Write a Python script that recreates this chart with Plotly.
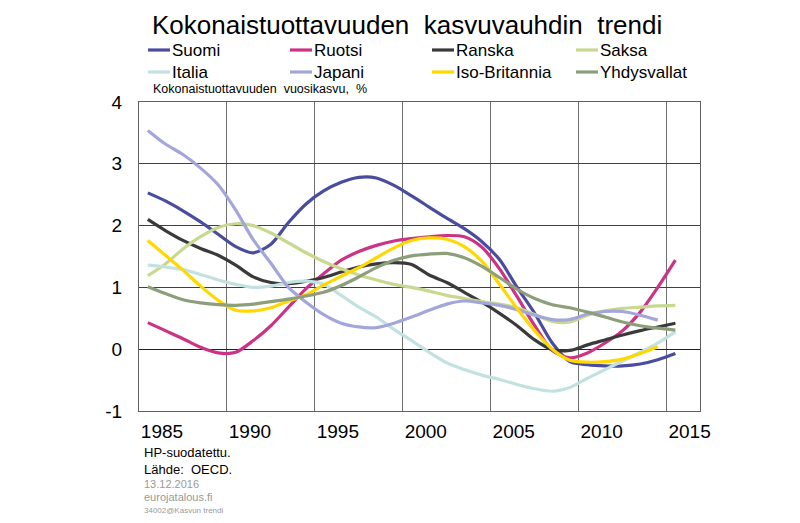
import plotly.graph_objects as go

years = list(range(1985, 2016))

suomi = [2.53, 2.40, 2.24, 2.06, 1.86, 1.66, 1.56, 1.70, 2.05, 2.35, 2.56, 2.70, 2.78, 2.77, 2.65, 2.48,
         2.30, 2.12, 1.95, 1.74, 1.45, 1.00, 0.58, 0.10, -0.20, -0.25, -0.27, -0.27, -0.24, -0.17, -0.07]
ruotsi = [0.43, 0.30, 0.17, 0.03, -0.06, -0.05, 0.14, 0.38, 0.68, 0.98, 1.22, 1.44, 1.58, 1.68, 1.75, 1.79,
          1.82, 1.84, 1.82, 1.65, 1.30, 0.85, 0.38, -0.02, -0.14, -0.06, 0.10, 0.30, 0.60, 1.00, 1.44]
ranska = [2.10, 1.92, 1.76, 1.63, 1.52, 1.36, 1.17, 1.08, 1.06, 1.10, 1.16, 1.25, 1.33, 1.38, 1.40, 1.37,
          1.20, 1.08, 0.92, 0.76, 0.58, 0.38, 0.15, -0.01, -0.02, 0.07, 0.15, 0.23, 0.30, 0.36, 0.42]
saksa = [1.19, 1.38, 1.62, 1.82, 1.97, 2.03, 2.00, 1.88, 1.72, 1.56, 1.42, 1.30, 1.20, 1.12, 1.05, 1.00,
         0.94, 0.87, 0.82, 0.77, 0.73, 0.67, 0.56, 0.45, 0.44, 0.55, 0.62, 0.66, 0.68, 0.70, 0.71]
italia = [1.36, 1.33, 1.29, 1.21, 1.12, 1.05, 1.00, 1.02, 1.08, 1.10, 1.05, 0.87, 0.68, 0.52, 0.32, 0.14,
          -0.05, -0.22, -0.33, -0.42, -0.49, -0.57, -0.64, -0.68, -0.62, -0.47, -0.33, -0.19, -0.05, 0.10, 0.28]
japani = [3.54, 3.32, 3.15, 2.93, 2.66, 2.25, 1.77, 1.39, 1.00, 0.76, 0.56, 0.42, 0.36, 0.35, 0.42, 0.52,
          0.63, 0.73, 0.78, 0.75, 0.71, 0.64, 0.55, 0.48, 0.48, 0.57, 0.61, 0.61, 0.55, 0.47]
iso_britannia = [1.76, 1.52, 1.28, 1.02, 0.79, 0.63, 0.62, 0.67, 0.78, 0.88, 1.04, 1.18, 1.32, 1.48, 1.64, 1.76,
                 1.80, 1.78, 1.66, 1.42, 1.05, 0.66, 0.30, 0.00, -0.18, -0.21, -0.20, -0.16, -0.07, 0.04]
yhdysvallat = [1.01, 0.90, 0.80, 0.75, 0.72, 0.71, 0.73, 0.77, 0.81, 0.86, 0.92, 1.03, 1.17, 1.32, 1.44, 1.51,
               1.54, 1.55, 1.48, 1.34, 1.16, 0.97, 0.82, 0.72, 0.67, 0.60, 0.52, 0.44, 0.38, 0.34, 0.31]

names = ["Suomi", "Ruotsi", "Ranska", "Saksa", "Italia", "Japani", "Iso-Britannia", "Yhdysvallat"]
series = [suomi, ruotsi, ranska, saksa, italia, japani, iso_britannia, yhdysvallat]
colors = ["#4a4c9e", "#cc3385", "#3a3a3a", "#c8d98f", "#c2e2e2", "#a3a6da", "#ffd800", "#8c9f7a"]

tick_years = [1985, 1990, 1995, 2000, 2005, 2010, 2015]
tick_text = ["1985", "1990", "1995", "2000", "2005", "2010", "2015"]
y_ticks = [-1, 0, 1, 2, 3, 4]
y_tick_text = ["-1", "0", "1", "2", "3", "4"]

fig = go.Figure()
for name, vals, col in zip(names, series, colors):
    fig.add_trace(go.Scatter(
        x=[y + 0.5 for y in years[:len(vals)]], y=vals, name=name, mode="lines",
        line=dict(color=col, width=3.2, shape="spline", smoothing=0.8),
        showlegend=False))

# page body margin of the browser shifts the figure by 8px
OFF = 8
W, H = 800 - OFF, 523 - OFF
L, R, T, B = 139 - OFF, 700 - OFF, 102 - OFF, 411 - OFF


def px(xs):  # screen pixel x -> paper
    return (xs - OFF - L) / (R - L)


def py(ys):  # screen pixel y -> paper
    return (B - (ys - OFF)) / (B - T)


# manual legend
col_x = [148, 290, 432, 576]
row_y = [50, 72]
for i, (name, col) in enumerate(zip(names, colors)):
    cx = col_x[i % 4]
    ry = row_y[i // 4]
    fig.add_shape(type="line", xref="paper", yref="paper",
                  x0=px(cx), x1=px(cx + 22), y0=py(ry), y1=py(ry),
                  line=dict(color=col, width=3.2))
    fig.add_annotation(xref="paper", yref="paper", x=px(cx + 22), y=py(ry),
                       text=name, showarrow=False, xanchor="left", yanchor="middle",
                       font=dict(size=17, color="#000000"))

fig.add_annotation(xref="paper", yref="paper", x=px(151), y=py(89),
                   text="Kokonaistuottavuuden  vuosikasvu,  %", showarrow=False,
                   xanchor="left", yanchor="middle", font=dict(size=12.5, color="#000000"))

notes = [("HP-suodatettu.", 452, 13, "#000000"),
         ("Lähde:  OECD.", 469, 13, "#000000"),
         ("13.12.2016", 484, 11, "#999999"),
         ("eurojatalous.fi", 497, 11, "#999999"),
         ("34002@Kasvun trendi", 510, 8, "#999999")]
for txt, yy, fs, c in notes:
    fig.add_annotation(xref="paper", yref="paper", x=px(142), y=py(yy), text=txt,
                       showarrow=False, xanchor="left", yanchor="middle",
                       font=dict(size=fs, color=c))

fig.update_layout(
    width=W, height=H,
    margin=dict(l=L, r=W - R, t=T, b=H - B, pad=0),
    paper_bgcolor="white", plot_bgcolor="white",
    font=dict(family="Arial, Liberation Sans, sans-serif", color="#000000"),
    title=dict(text="Kokonaistuottavuuden  kasvuvauhdin  trendi", x=(152 - OFF) / W,
               xanchor="left", y=1 - (25 - OFF) / H, yanchor="middle",
               font=dict(size=26, color="#000000")),
    xaxis=dict(range=[1985, 2016.9], tickvals=tick_years, ticktext=tick_text,
               showgrid=True, gridcolor="#707070", gridwidth=1,
               showline=True, linecolor="#606060", linewidth=1, mirror=True,
               zeroline=False, ticks="", ticklabelshift=23, ticklabelstandoff=3,
               tickfont=dict(size=19, color="#000000")),
    yaxis=dict(range=[-1, 4], tickvals=y_ticks, ticktext=y_tick_text,
               showgrid=True, gridcolor="#404040", gridwidth=1,
               showline=True, linecolor="#606060", linewidth=1, mirror=True,
               zeroline=True, zerolinecolor="#202020", zerolinewidth=1,
               ticks="", ticklabelstandoff=12,
               tickfont=dict(size=19, color="#000000")),
)

fig.write_html("out.html")
